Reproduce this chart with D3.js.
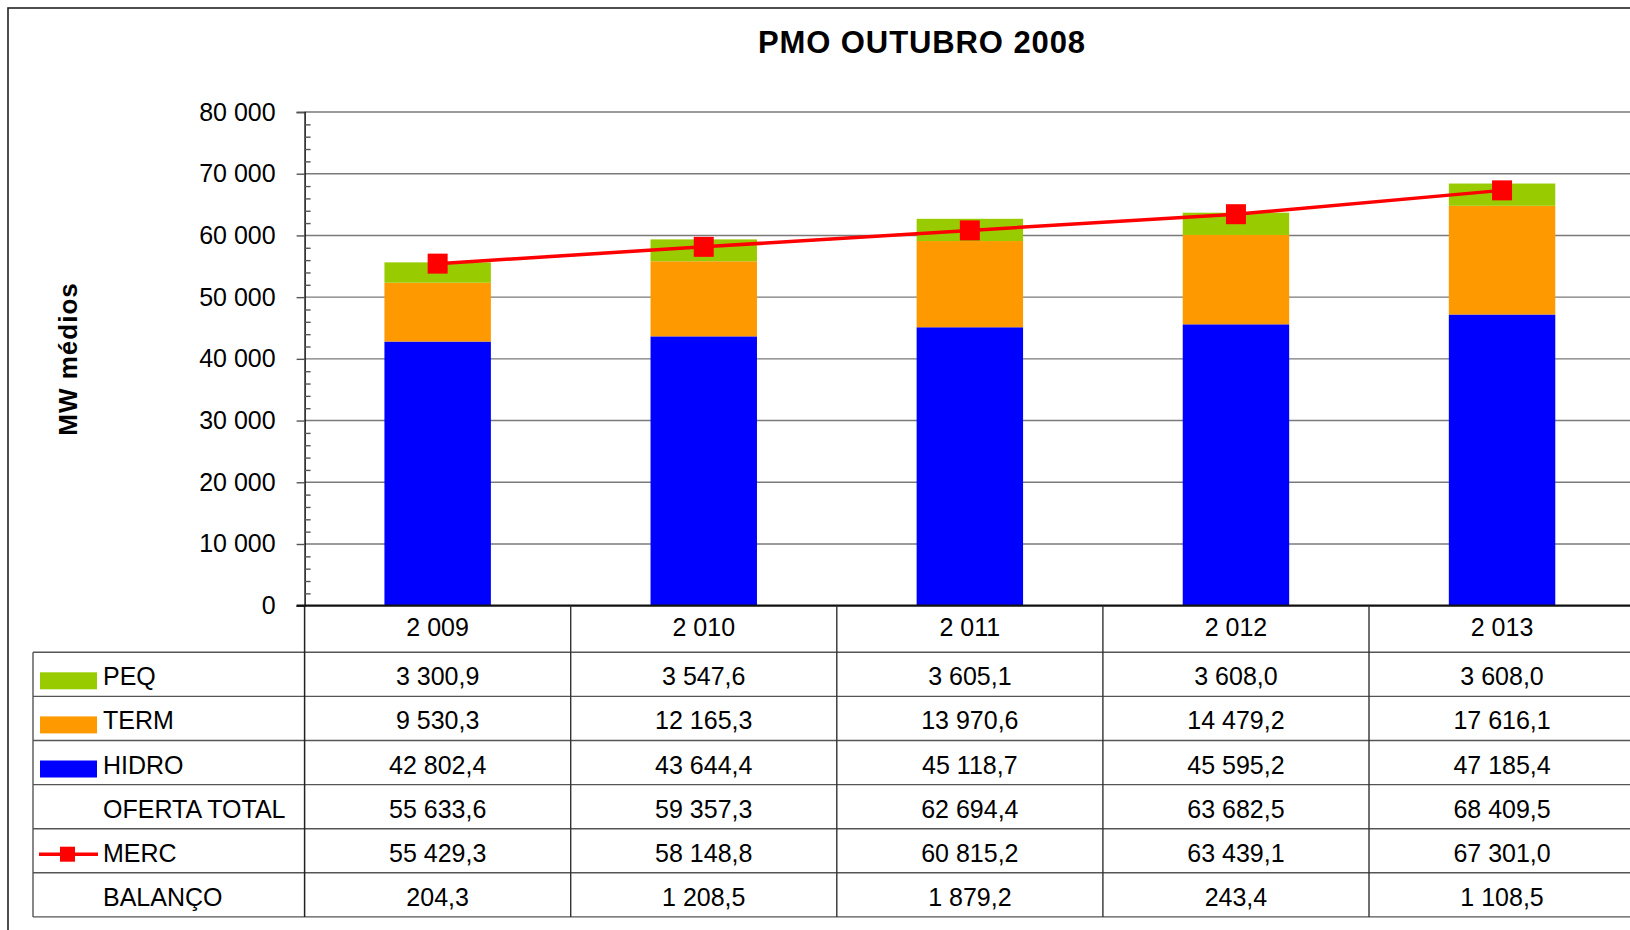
<!DOCTYPE html>
<html>
<head>
    <meta charset="UTF-8">
    <title>PMO OUTUBRO 2008</title>
    <style>
        body { margin: 0; background: #fff; }
        svg text { font-family: "Liberation Sans", Arial, sans-serif; fill: #000; }
    </style>
</head>
<body>
<div id="chart"></div>
<script src="https://cdn.jsdelivr.net/npm/d3@7"></script>
<script>
    // dados (MW médios)
    var years = [2009, 2010, 2011, 2012, 2013];
    var peq = [3300.9, 3547.6, 3605.1, 3608.0, 3608.0];
    var term = [9530.3, 12165.3, 13970.6, 14479.2, 17616.1];
    var hidro = [42802.4, 43644.4, 45118.7, 45595.2, 47185.4];
    var oferta = [55633.6, 59357.3, 62694.4, 63682.5, 68409.5];
    var merc = [55429.3, 58148.8, 60815.2, 63439.1, 67301.0];
    var balanco = [204.3, 1208.5, 1879.2, 243.4, 1108.5];
    var yTicks = [0, 10000, 20000, 30000, 40000, 50000, 60000, 70000, 80000];

    window.onload = function () {
        var width = 1630, height = 930;
        var plotL = 304.6, plotR = 1635.1, plotT = 112, plotB = 605.7;
        var rowH = 44.1, tableTop = 652.3, labelLeft = 33;

        var loc = d3.formatLocale({decimal: ",", thousands: " ", grouping: [3], currency: ["", ""]});
        var fmt1 = loc.format(",.1f"), fmtInt = loc.format(",d");

        var svg = d3.select("#chart").append("svg")
            .attr("width", width).attr("height", height);

        // moldura
        svg.append("rect").attr("x", 8).attr("y", 8)
            .attr("width", width + 20).attr("height", height + 20)
            .attr("fill", "none").attr("stroke", "#222").attr("stroke-width", 1.6);

        var x = d3.scaleBand().domain(years).range([plotL, plotR])
            .paddingInner(0.6).paddingOuter(0.3);
        var col = d3.scaleBand().domain(years).range([plotL, plotR]);
        var y = d3.scaleLinear().domain([0, 80000]).range([plotB, plotT]);

        // grade
        svg.append("g").selectAll("line").data(yTicks.slice(1)).join("line")
            .attr("x1", plotL).attr("x2", width)
            .attr("y1", function (d) { return y(d); }).attr("y2", function (d) { return y(d); })
            .attr("stroke", "#7a7a7a").attr("stroke-width", 1.4);

        // barras empilhadas
        var series = [
            {name: "HIDRO", values: hidro, color: "#0000ff"},
            {name: "TERM", values: term, color: "#ff9900"},
            {name: "PEQ", values: peq, color: "#99cc00"}
        ];
        var stackData = years.map(function (yr, i) {
            var o = {year: yr};
            series.forEach(function (s) { o[s.name] = s.values[i]; });
            return o;
        });
        var stacked = d3.stack().keys(series.map(function (s) { return s.name; }))(stackData);
        svg.append("g").selectAll("g").data(stacked).join("g")
            .attr("fill", function (d, i) { return series[i].color; })
            .selectAll("rect").data(function (d) { return d; }).join("rect")
            .attr("x", function (d) { return x(d.data.year); })
            .attr("width", x.bandwidth())
            .attr("y", function (d) { return y(d[1]); })
            .attr("height", function (d) { return y(d[0]) - y(d[1]); });

        // eixo y
        var yAxis = svg.append("g").attr("transform", "translate(" + plotL + ",0)")
            .call(d3.axisLeft(y).tickValues(yTicks).tickSize(8).tickPadding(21).tickFormat(fmtInt));
        yAxis.select(".domain").attr("stroke", "#111").attr("stroke-width", 1.5);
        yAxis.selectAll(".tick line").attr("stroke", "#555").attr("stroke-width", 1.4);
        yAxis.selectAll("text").attr("font-size", 25).attr("font-family", "Liberation Sans, Arial, sans-serif");

        var minor = d3.range(2000, 80000, 2000).filter(function (d) { return d % 10000 !== 0; });
        var yMinor = svg.append("g").attr("transform", "translate(" + plotL + ",0)")
            .call(d3.axisRight(y).tickValues(minor).tickSize(6).tickFormat(""));
        yMinor.select(".domain").remove();
        yMinor.selectAll(".tick line").attr("stroke", "#555").attr("stroke-width", 1.4);

        // linha do mercado
        var line = d3.line()
            .x(function (d, i) { return x(years[i]) + x.bandwidth() / 2; })
            .y(function (d) { return y(d); });
        svg.append("path").datum(merc).attr("d", line)
            .attr("fill", "none").attr("stroke", "#ff0000").attr("stroke-width", 3.5);
        svg.append("g").selectAll("rect").data(merc).join("rect")
            .attr("x", function (d, i) { return x(years[i]) + x.bandwidth() / 2 - 10; })
            .attr("y", function (d) { return y(d) - 10; })
            .attr("width", 20).attr("height", 20).attr("fill", "#ff0000");

        // eixo x (linha base)
        svg.append("line").attr("x1", plotL - 8).attr("x2", width)
            .attr("y1", plotB).attr("y2", plotB)
            .attr("stroke", "#111").attr("stroke-width", 2.2);

        // tabela de dados
        var rows = [
            {label: "PEQ", values: peq, key: "bar", color: "#99cc00"},
            {label: "TERM", values: term, key: "bar", color: "#ff9900"},
            {label: "HIDRO", values: hidro, key: "bar", color: "#0000ff"},
            {label: "OFERTA TOTAL", values: oferta, key: "none"},
            {label: "MERC", values: merc, key: "line"},
            {label: "BALANÇO", values: balanco, key: "none"}
        ];
        var tableBottom = tableTop + rows.length * rowH;
        var tbl = svg.append("g");

        // linhas horizontais
        tbl.selectAll("line.h").data(d3.range(rows.length + 1)).join("line")
            .attr("class", "h")
            .attr("x1", labelLeft).attr("x2", width)
            .attr("y1", function (d) { return tableTop + d * rowH; })
            .attr("y2", function (d) { return tableTop + d * rowH; })
            .attr("stroke", "#555").attr("stroke-width", 1.4);
        // linhas verticais
        tbl.selectAll("line.v").data(years.slice(1)).join("line")
            .attr("class", "v")
            .attr("x1", function (d) { return col(d); }).attr("x2", function (d) { return col(d); })
            .attr("y1", plotB).attr("y2", tableBottom)
            .attr("stroke", "#333").attr("stroke-width", 1.4);
        tbl.append("line").attr("x1", plotL).attr("x2", plotL)
            .attr("y1", plotB).attr("y2", tableBottom)
            .attr("stroke", "#222").attr("stroke-width", 1.5);
        tbl.append("line").attr("x1", labelLeft).attr("x2", labelLeft)
            .attr("y1", tableTop).attr("y2", tableBottom)
            .attr("stroke", "#555").attr("stroke-width", 1.4);

        // cabeçalho (anos)
        tbl.selectAll("text.yr").data(years).join("text")
            .attr("class", "yr")
            .attr("x", function (d) { return col(d) + col.bandwidth() / 2; })
            .attr("y", plotB + 30)
            .attr("text-anchor", "middle").attr("font-size", 25)
            .text(function (d) { return fmtInt(d); });

        var rowG = tbl.selectAll("g.row").data(rows).join("g")
            .attr("class", "row")
            .attr("transform", function (d, i) { return "translate(0," + (tableTop + i * rowH) + ")"; });

        rowG.append("text").attr("x", 103).attr("y", 33).attr("font-size", 25)
            .text(function (d) { return d.label; });

        rowG.filter(function (d) { return d.key === "bar"; }).append("rect")
            .attr("x", 40).attr("y", 20).attr("width", 57).attr("height", 17)
            .attr("fill", function (d) { return d.color; });

        var lk = rowG.filter(function (d) { return d.key === "line"; });
        lk.append("line").attr("x1", 39).attr("x2", 98).attr("y1", 25.5).attr("y2", 25.5)
            .attr("stroke", "#ff0000").attr("stroke-width", 3.5);
        lk.append("rect").attr("x", 60).attr("y", 18).attr("width", 15).attr("height", 15)
            .attr("fill", "#ff0000");

        rowG.selectAll("text.val").data(function (d) { return d.values; }).join("text")
            .attr("class", "val")
            .attr("x", function (d, i) { return col(years[i]) + col.bandwidth() / 2; })
            .attr("y", 33).attr("text-anchor", "middle").attr("font-size", 25)
            .text(function (d) { return fmt1(d); });

        // títulos
        svg.append("text").attr("x", 922).attr("y", 52.5)
            .attr("text-anchor", "middle").attr("font-size", 31).attr("font-weight", "bold")
            .attr("letter-spacing", 0.9)
            .text("PMO OUTUBRO 2008");

        svg.append("text")
            .attr("transform", "translate(76.5,359) rotate(-90)")
            .attr("text-anchor", "middle").attr("font-size", 26).attr("font-weight", "bold")
            .attr("letter-spacing", 1)
            .text("MW médios");
    };
</script>
</body>
</html>
